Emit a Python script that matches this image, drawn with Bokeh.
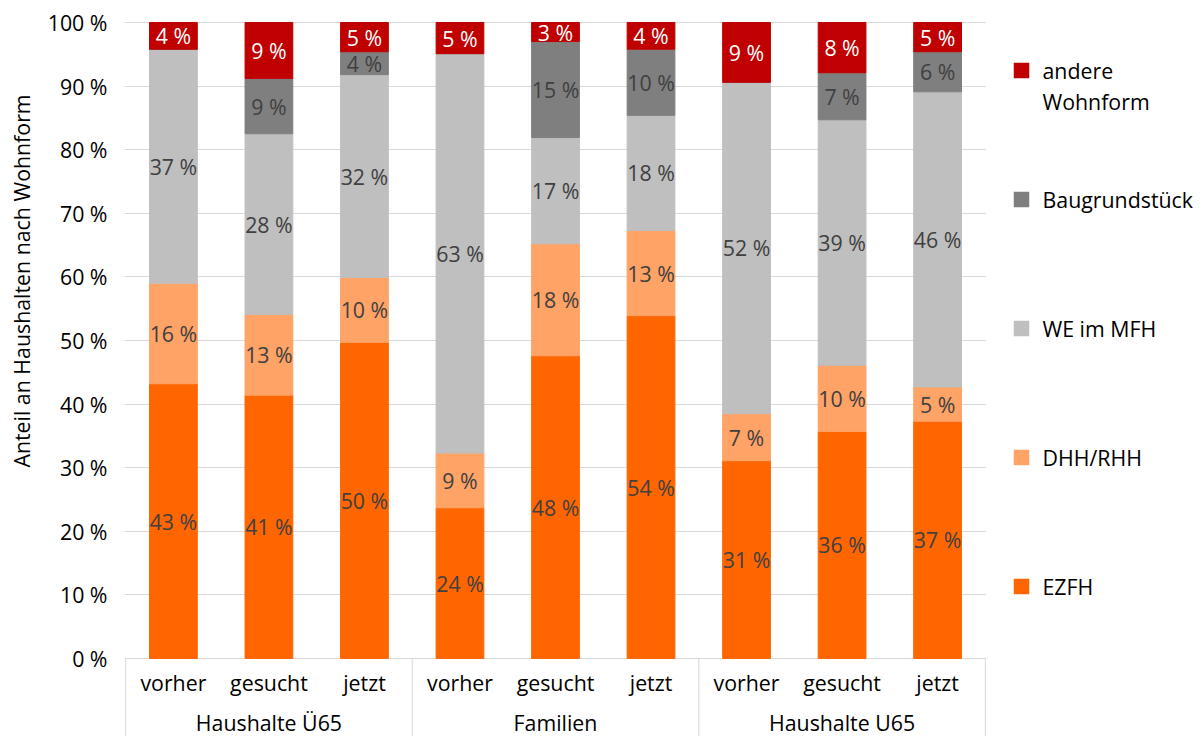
import numpy as np
from bokeh.plotting import figure
from bokeh.layouts import row
from bokeh.models import ColumnDataSource, Range1d, FixedTicker, CustomJSTickFormatter
from bokeh.core.properties import value
from bokeh.embed import file_html
from bokeh.resources import INLINE

# --- data -------------------------------------------------------------
groups = ["Haushalte Ü65", "Familien", "Haushalte U65"]
phases = ["vorher", "gesucht", "jetzt"]

series = ["EZFH", "DHH/RHH", "WE im MFH", "Baugrundstück", "andere Wohnform"]
legend_labels = ["EZFH", "DHH/RHH", "WE im MFH", "Baugrundstück", "andere\nWohnform"]
colors = ["#FF6600", "#FFA366", "#BFBFBF", "#7F7F7F", "#C00000"]

# shares in percent, one value per bar (Ü65 vorher/gesucht/jetzt, Familien ..., U65 ...)
ezfh   = [43.2, 41.4, 49.7, 23.7, 47.6, 53.9, 31.1, 35.7, 37.3]
dhh    = [15.8, 12.7, 10.2,  8.6, 17.6, 13.4,  7.4, 10.4,  5.4]
we     = [36.8, 28.4, 31.9, 62.8, 16.7, 18.1, 52.1, 38.6, 46.4]
bau    = [ 0.0,  8.7,  3.6,  0.0, 15.1, 10.4,  0.0,  7.4,  6.3]
andere = [ 4.2,  8.8,  4.6,  4.9,  3.0,  4.2,  9.4,  7.9,  4.6]

y_ticks = list(range(0, 101, 10))
y_title = "Anteil an Haushalten nach Wohnform"

FONT = value("Open Sans")
FSIZE = "16pt"
W, H = 1202, 736
TOP = 20                      # top border shared by all panels of the row
TITLE_W, LEGEND_W = 40, 216


def panel(width, x0):
    """A bare figure whose data coordinates are page pixels (y pointing down)."""
    f = figure(width=width, height=H, title=None,
               x_range=Range1d(x0, x0 + width), y_range=Range1d(H, TOP),
               x_axis_location=None, y_axis_location=None,
               min_border_left=0, min_border_right=0,
               min_border_top=TOP, min_border_bottom=0,
               toolbar_location=None, output_backend="svg")
    f.outline_line_color = None
    f.grid.visible = False
    f.background_fill_color = "white"
    f.border_fill_color = "white"
    return f


# --- main chart ---------------------------------------------------------
n_sub = len(phases)
n = len(groups) * n_sub
xs = np.arange(n) + 0.5
Y_BOTTOM = -12.264          # room below 0 % for the category labels
Y_TOP = 100.31

p = figure(width=W - TITLE_W - LEGEND_W, height=H, title=None,
           x_range=Range1d(-0.012, n + 0.012), y_range=Range1d(Y_BOTTOM, Y_TOP),
           min_border_left=124 - TITLE_W, min_border_right=0,
           min_border_top=TOP, min_border_bottom=0,
           x_axis_location=None, toolbar_location=None, output_backend="svg")
p.outline_line_color = None
p.background_fill_color = "white"
p.border_fill_color = "white"

# y axis
yax = p.yaxis[0]
yax.ticker = FixedTicker(ticks=y_ticks)
yax.formatter = CustomJSTickFormatter(code="return tick + ' %';")
yax.axis_line_color = None
yax.major_tick_line_color = None
yax.minor_tick_line_color = None
yax.major_tick_out = 0
yax.minor_tick_out = 0
yax.major_label_standoff = 17
yax.major_label_text_font = "Open Sans"
yax.major_label_text_font_size = FSIZE
yax.major_label_text_color = "#000000"

p.xgrid.visible = False
p.ygrid.ticker = FixedTicker(ticks=y_ticks)
p.ygrid.grid_line_color = "#D9D9D9"
p.ygrid.grid_line_width = 1

# stacked bars
values = [ezfh, dhh, we, bau, andere]
src = ColumnDataSource(dict(x=xs, **{s: v for s, v in zip(series, values)}))
p.vbar_stack(series, x="x", width=0.5, color=colors, source=src)

# value labels centred in each segment
lx, ly, lt, lc = [], [], [], []
base = np.zeros(n)
for s, vals in zip(series, values):
    vals = np.asarray(vals, dtype=float)
    for i in range(n):
        if vals[i] > 0:
            lx.append(xs[i])
            ly.append(base[i] + vals[i] / 2)
            lt.append(f"{round(vals[i])} %")
            lc.append("#FFFFFF" if s == "andere Wohnform" else "#404040")
    base += vals
p.text(x="x", y="y", text="t", text_color="c",
       source=ColumnDataSource(dict(x=lx, y=ly, t=lt, c=lc)),
       text_align="center", text_baseline="middle",
       text_font=FONT, text_font_size=FSIZE)

# category axis: sub labels, group labels and separators
p.text(x=list(xs), y=[-3.75] * n, text=phases * len(groups),
       text_align="center", text_baseline="middle",
       text_font=FONT, text_font_size=FSIZE, text_color="#000000")
gx = [g * n_sub + n_sub / 2 for g in range(len(groups))]
p.text(x=gx, y=[-10.05] * len(groups), text=groups,
       text_align="center", text_baseline="middle",
       text_font=FONT, text_font_size=FSIZE, text_color="#000000")
sep_x = [g * n_sub for g in range(len(groups) + 1)]
p.segment(x0=sep_x, y0=[0] * len(sep_x), x1=sep_x, y1=[Y_BOTTOM] * len(sep_x),
          line_color="#D9D9D9", line_width=1)

# --- y axis title ---------------------------------------------------------
tf = panel(TITLE_W, 0)
tf.text(x=[21], y=[280.5], text=[y_title], angle=np.pi / 2,
        text_align="center", text_baseline="middle",
        text_font=FONT, text_font_size=FSIZE, text_color="#000000")

# --- legend ---------------------------------------------------------------
x_leg = W - LEGEND_W
lg = panel(LEGEND_W, x_leg)
leg_y = [586, 457, 328, 199, 70]          # EZFH ... andere Wohnform
text_y = [586, 457, 328, 199, 85.8]
lg.rect(x=[1021] * len(series), y=leg_y, width=15.5, height=15.5,
        color=colors, line_width=0)
lg.text(x=[1042] * len(series), y=text_y, text=legend_labels,
        text_align="left", text_baseline="middle", text_line_height=1.08,
        text_font=FONT, text_font_size=FSIZE, text_color="#000000")

layout = row(tf, p, lg)
open("out.html", "w").write(file_html(layout, INLINE))
